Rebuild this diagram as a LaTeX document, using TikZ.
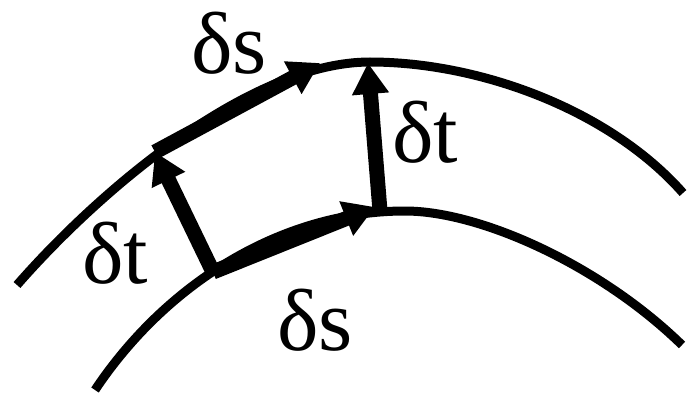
\documentclass[tikz,border=0pt]{standalone}
\usepackage{fontspec}
\setmainfont{Liberation Serif}
\usetikzlibrary{arrows.meta}

\begin{document}
\begin{tikzpicture}[x=1pt,y=-1pt,
    curve/.style={line width=9pt},
    vec/.style={line width=15pt,-{Triangle[length=31pt,width=35pt]}},
    lbl/.style={anchor=base west,inner sep=0pt,font=\fontsize{88}{90}\selectfont}]

        \useasboundingbox (0,0) rectangle (687,396);

        % Outer curve
        \draw[curve] (17,285) .. controls (100,190) and (250,62) .. (370,62)
            .. controls (480,62) and (610,110) .. (683,193);

        % Inner curve
        \draw[curve] (95,390) .. controls (165,285) and (280,211) .. (405,211)
            .. controls (480,211) and (600,265) .. (682,345);

        % Corners of the patch
        \coordinate (outerL) at (155,152);
        \coordinate (outerR) at (368,63);
        \coordinate (topTip) at (320,63);
        \coordinate (innerL) at (213,272);
        \coordinate (innerR) at (380,211);
        \coordinate (lowTip) at (375,207);

        % Vectors
        \draw[vec] (outerL) -- (topTip);
        \draw[vec] (innerL) -- (outerL);
        \draw[vec] (innerL) -- (lowTip);
        \draw[vec] (innerR) -- (outerR);

        % Labels
        \node[lbl] (dsTop) at (191,73) {δs};
        \node[lbl] (dtLeft) at (82,283) {δt};
        \node[lbl] (dtRight) at (392,162) {δt};
        \node[lbl] (dsLow) at (277,350) {δs};

    \end{tikzpicture}
\end{document}
